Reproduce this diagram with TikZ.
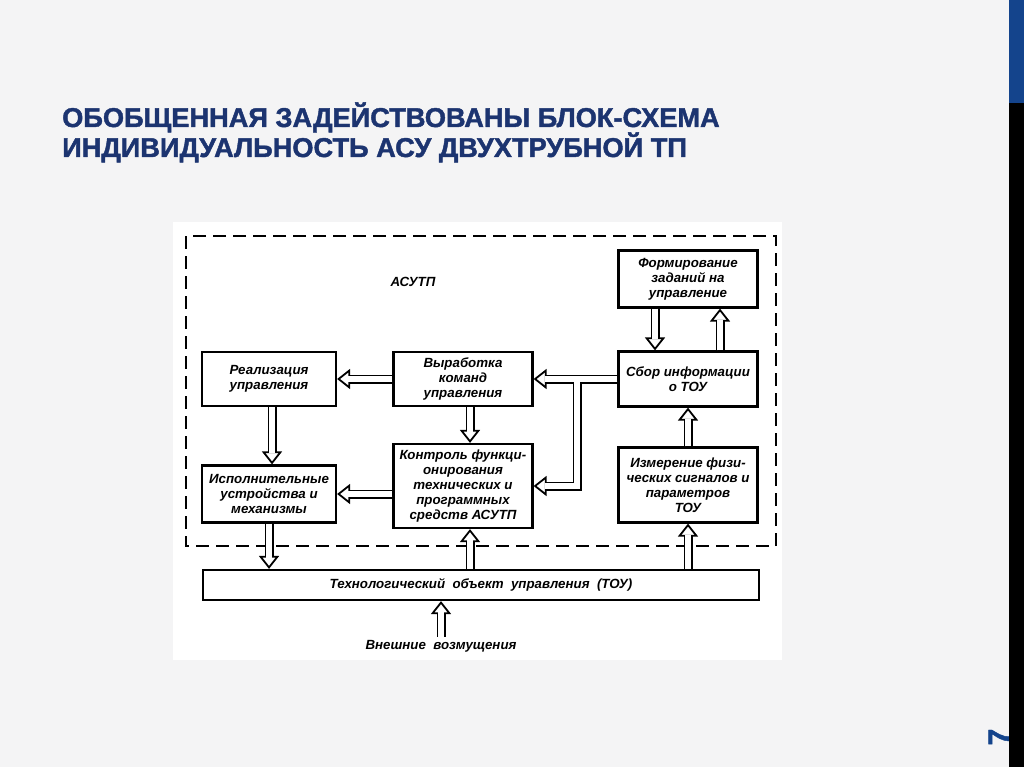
\documentclass[tikz,border=0pt]{standalone}
\usepackage{fontspec}
\usetikzlibrary{arrows.meta}
\setmainfont{Liberation Sans}[BoldFeatures={FakeBold=1.6}]
\newfontfamily\gost{Liberation Sans}
\definecolor{fon}{RGB}{244,244,245}
\definecolor{sinij}{RGB}{28,52,112}
\definecolor{polosa}{RGB}{20,68,140}

\begin{document}
\begin{tikzpicture}[x=1pt,y=-1pt,
    blok/.style={draw, line width=2.2pt, inner sep=1pt, align=center,
      font=\gost\bfseries\itshape\fontsize{13.3}{15}\selectfont},
    nadpis/.style={font=\gost\bfseries\itshape\fontsize{13.3}{15}\selectfont},
    strelka/.style={line width=9pt,
      -{Triangle[open, fill=white, line width=1.8pt, length=13pt, width=20pt]},
      postaction={draw=white, line width=5.4pt, arrows=-, shorten >=11pt}},
  ]
  \useasboundingbox (0,0) rectangle (1024,767);
  \fill[fon] (0,0) rectangle (1024,767);

  % title
  \node[anchor=base west, inner sep=0pt, text=sinij, font=\bfseries\fontsize{27.2}{30}\selectfont]
    (zag1) at (62,127) {ОБОБЩЕННАЯ ЗАДЕЙСТВОВАНЫ БЛОК-СХЕМА};
  \node[anchor=base west, inner sep=0pt, text=sinij, font=\bfseries\fontsize{27.2}{30}\selectfont]
    (zag2) at (62,157) {ИНДИВИДУАЛЬНОСТЬ АСУ ДВУХТРУБНОЙ ТП};

  % page number and side bar
  \node[rotate=90, text=polosa, font=\bfseries\fontsize{30}{30}\selectfont] (nomer) at (999,737) {7};
  \fill[polosa] (1009,0) rectangle (1024,103);
  \fill[black] (1009,103) rectangle (1024,767);

  % picture area
  \fill[white] (173,222) rectangle (782,660);
  \draw[line width=2.4pt, dash pattern=on 13pt off 7pt] (186,236) rectangle (776,546);
  \node[nadpis] (asutp) at (413,282) {АСУТП};

  % blocks
  \node[blok, minimum width=139pt, minimum height=57pt] (form) at (688,279)
    {Формирование\\заданий на\\управление};
  \node[blok, minimum width=134pt, minimum height=54pt] (real) at (269,379)
    {Реализация\\управления};
  \node[blok, minimum width=139pt, minimum height=54pt] (vyr) at (463,379)
    {Выработка\\команд\\управления};
  \node[blok, minimum width=139pt, minimum height=55pt] (sbor) at (688,379)
    {Сбор информации\\о ТОУ};
  \node[blok, minimum width=134pt, minimum height=57pt] (isp) at (269,494)
    {Исполнительные\\устройства и\\механизмы};
  \node[blok, minimum width=139pt, minimum height=84pt] (kontr) at (463,486)
    {Контроль функци-\\онирования\\технических и\\программных\\средств АСУТП};
  \node[blok, minimum width=139pt, minimum height=75pt] (izm) at (688,485)
    {Измерение физи-\\ческих сигналов и\\параметров\\ТОУ};
  \node[blok, minimum width=556pt, minimum height=30pt] (tou) at (481,585)
    {Технологический\ \ объект\ \ управления\ \ (ТОУ)};
  \node[nadpis] (vozm) at (441,646) {Внешние\ \ возмущения};

  % connections
  \coordinate (razv) at (577,379);
  \draw[strelka] (razv) |- (kontr.east);
  \draw[strelka] (sbor.west) -- (vyr.east);
  \fill[white] ([xshift=-2.7pt]razv) rectangle ([xshift=2.7pt,yshift=-4.8pt]razv);
  \draw[strelka] (vyr.west) -- (real.east);
  \draw[strelka] ([xshift=-33pt]form.south) -- ([xshift=-33pt]sbor.north);
  \draw[strelka] ([xshift=32pt]sbor.north) -- ([xshift=32pt]form.south);
  \draw[strelka] (izm.north) -- (sbor.south);
  \draw[strelka] (izm.south |- tou.north) -- (izm.south);
  \draw[strelka] ([xshift=3pt]real.south) -- ([xshift=3pt]isp.north);
  \draw[strelka] ([xshift=7pt]vyr.south) -- ([xshift=7pt]kontr.north);
  \draw[strelka] (kontr.west |- isp.east) -- (isp.east);
  \draw[strelka] (isp.south) -- (isp.south |- tou.north);
  \draw[strelka] ([xshift=7pt]kontr.south |- tou.north) -- ([xshift=7pt]kontr.south);
  \draw[strelka] (vozm.north) -- (vozm.north |- tou.south);
\end{tikzpicture}
\end{document}
